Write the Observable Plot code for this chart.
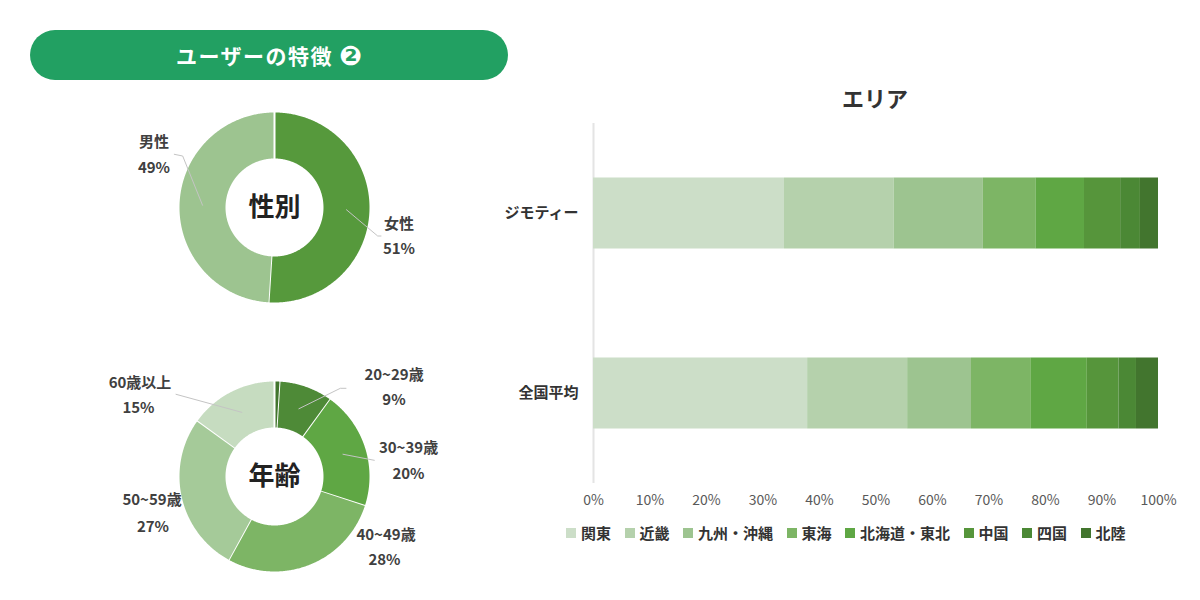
<!DOCTYPE html>
<html>
<head>
<meta charset="utf-8">
<script src="https://cdn.jsdelivr.net/npm/d3@7"></script>
<script src="https://cdn.jsdelivr.net/npm/@observablehq/plot@0.6"></script>
<style>
  html, body { margin: 0; padding: 0; background: #fff; }
  body { width: 1200px; height: 600px; overflow: hidden; font-family: "Noto Sans CJK JP", "Noto Sans", sans-serif; }
  #root { position: relative; width: 1200px; height: 600px; }
  .abs { position: absolute; }
  #pill { left: 30px; top: 30px; width: 478px; height: 50px; border-radius: 25px; background: #22a062; color: #fff;
          font-weight: 700; font-size: 21px; display: flex; align-items: center; justify-content: center; letter-spacing: 1.5px; }
  #pill .num { font-size: 27px; margin-left: 6px; letter-spacing: 0; font-family: "DejaVu Sans", sans-serif; line-height: 1; }
  #areaTitle { left: 775px; top: 80px; width: 200px; text-align: center; font-size: 22px; font-weight: 700; color: #333; line-height: 34px; }
  .lg-swatch { margin-right: 13.5px !important; }
  .lg-swatch > svg { margin-right: 5px !important; }
</style>
</head>
<body>
<div id="root">
  <div id="pill" class="abs"><span>ユーザーの特徴</span><span class="num">❷</span></div>
  <div id="areaTitle" class="abs">エリア</div>
</div>
<script>
// ---------- data ----------
const genderLabels = ["女性", "男性"];
const genderValues = [51, 49];
const genderColors = ["#56993c", "#9dc490"];

const ageLabels = ["~19歳", "20~29歳", "30~39歳", "40~49歳", "50~59歳", "60歳以上"];
const ageValues = [1, 9, 20, 28, 27, 15];
const ageColors = ["#42752e", "#4e8a37", "#5fa744", "#7db565", "#a5ca99", "#c6dcc0"];

const areaCategories = ["ジモティー", "全国平均"];
const regions = ["関東", "近畿", "九州・沖縄", "東海", "北海道・東北", "中国", "四国", "北陸"];
const jimotyValues = [33.8, 19.4, 15.8, 9.3, 8.6, 6.4, 3.5, 3.2];
const nationalValues = [37.9, 17.7, 11.3, 10.5, 10.0, 5.6, 3.1, 3.9];
const regionColors = ["#ccdec8", "#b5d1ac", "#9dc490", "#7db565", "#5fa744", "#56953b", "#4b8835", "#42752e"];
const xTicks = [0, 10, 20, 30, 40, 50, 60, 70, 80, 90, 100];

// ---------- label layout (offsets from donut centre, px) ----------
const genderLayout = [
  {label: "女性", name: [124.5, 16.5], pct: [124.5, 41.5], leader: [[103.2, 28.5], [106.5, 28.5]]},
  {label: "男性", name: [-120.5, -65], pct: [-120.5, -39.5], leader: [[-91.8, -51.5], [-100.2, -53.2]]}
];
const ageLayout = [
  {label: "20~29歳", name: [119.5, -101.5], pct: [119.5, -76.5], leader: [[65.8, -88.2], [71.5, -88.2]]},
  {label: "30~39歳", name: [134, -28], pct: [134, -2.5], leader: [[99.8, -16.2]]},
  {label: "40~49歳", name: [111.5, 58.5], pct: [110, 83.5], leader: null},
  {label: "50~59歳", name: [-122.5, 23.5], pct: [-121.5, 50.5], leader: null},
  {label: "60歳以上", name: [-134.5, -93], pct: [-136, -68], leader: [[-98.5, -82.2]]}
];

const FONT = '"Noto Sans CJK JP", "Noto Sans", sans-serif';

function donut(labels, values, colors, centerText, layout, left, top) {
  const R = 96, r = 48, W = 360, H = 240;
  const total = d3.sum(values);
  let acc = 0;
  const slices = values.map((v, i) => {
    const a0 = acc / total * 2 * Math.PI; acc += v;
    const a1 = acc / total * 2 * Math.PI;
    return {label: labels[i], value: v, a0, a1, color: colors[i]};
  });
  const pts = [];
  for (const s of slices) {
    const n = Math.max(2, Math.ceil((s.a1 - s.a0) / 0.01));
    for (let k = 0; k <= n; k++) {
      const a = s.a0 + (s.a1 - s.a0) * k / n;
      pts.push({key: s.label, x: R * Math.sin(a), y: -R * Math.cos(a), fill: s.color});
    }
    for (let k = n; k >= 0; k--) {
      const a = s.a0 + (s.a1 - s.a0) * k / n;
      pts.push({key: s.label, x: r * Math.sin(a), y: -r * Math.cos(a), fill: s.color});
    }
  }
  const texts = [];
  const leaders = [];
  for (const L of layout) {
    const s = slices.find(d => d.label === L.label);
    texts.push({x: L.name[0], y: L.name[1], t: s.label});
    texts.push({x: L.pct[0], y: L.pct[1], t: s.value + "%"});
    if (L.leader) {
      const am = (s.a0 + s.a1) / 2, rm = (R + r) / 2;
      leaders.push({key: s.label, x: rm * Math.sin(am), y: -rm * Math.cos(am)});
      for (const p of L.leader) leaders.push({key: s.label, x: p[0], y: p[1]});
    }
  }
  const chart = Plot.plot({
    width: W, height: H, margin: 0,
    x: {domain: [-W / 2, W / 2], axis: null},
    y: {domain: [-H / 2, H / 2], range: [0, H], axis: null},
    color: {type: "identity"},
    style: {fontFamily: FONT, overflow: "visible", background: "transparent"},
    marks: [
      Plot.line(pts, {x: "x", y: "y", z: "key", fill: "fill", stroke: "#ffffff", strokeWidth: 2, strokeLinejoin: "round"}),
      Plot.line(leaders, {x: "x", y: "y", z: "key", stroke: "#c4c4c4", strokeWidth: 1}),
      Plot.text(texts, {x: "x", y: "y", text: "t", fontSize: 15, fontWeight: "bold", fill: "#404040"}),
      Plot.text([{x: 0, y: 0, t: centerText}], {x: "x", y: "y", text: "t", fontSize: 26, fontWeight: "bold", fill: "#222"})
    ]
  });
  chart.classList.add("abs");
  chart.style.left = (left - W / 2) + "px";
  chart.style.top = (top - H / 2) + "px";
  return chart;
}

const root = document.getElementById("root");
root.appendChild(donut(genderLabels, genderValues, genderColors, "性別", genderLayout, 273.5, 206.5));
root.appendChild(donut(ageLabels, ageValues, ageColors, "年齢", ageLayout, 273.5, 475.5));

// ---------- stacked bar ----------
const seriesByCategory = [jimotyValues, nationalValues];
const barRows = areaCategories.flatMap((c, ci) =>
  regions.map((reg, ri) => ({category: c, region: reg, value: seriesByCategory[ci][ri]})));

const bar = Plot.plot({
  width: 690, height: 395,
  marginLeft: 103, marginRight: 22, marginTop: 3, marginBottom: 32,
  x: {domain: [0, 100]},
  y: {domain: areaCategories, padding: 0},
  color: {domain: regions, range: regionColors},
  style: {fontFamily: FONT, overflow: "visible", background: "transparent"},
  marks: [
    Plot.ruleX([0], {stroke: "#e4e4e4", strokeWidth: 2}),
    Plot.barX(barRows, Plot.stackX({x: "value", y: "category", fill: "region", insetTop: 54.5, insetBottom: 54.5})),
    Plot.axisX({ticks: xTicks, tickFormat: d => d + "%", tickSize: 0, tickPadding: 12, fontSize: 14, fill: "#595959", label: null}),
    Plot.axisY({tickSize: 0, tickPadding: 15, fontSize: 15, fontWeight: "bold", fill: "#333", label: null})
  ]
});
bar.classList.add("abs");
bar.style.left = "490px";
bar.style.top = "120px";
root.appendChild(bar);

const legend = Plot.legend({
  color: {domain: regions, range: regionColors, type: "ordinal"},
  swatchSize: 10,
  className: "lg",
  style: {fontSize: "15px", fontWeight: "bold", color: "#333", fontFamily: FONT}
});
const lgWrap = document.createElement("div");
lgWrap.className = "abs";
lgWrap.style.left = "566px";
lgWrap.style.top = "516px";
lgWrap.style.width = "640px";
lgWrap.appendChild(legend);
root.appendChild(lgWrap);
</script>
</body>
</html>
